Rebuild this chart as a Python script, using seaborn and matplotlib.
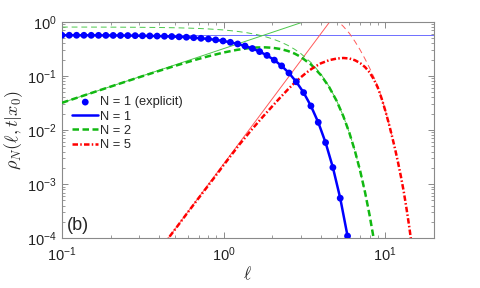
import matplotlib
matplotlib.use("Agg")
import matplotlib.pyplot as plt
import seaborn as sns

# ------- Data -------

# N = 1 (explicit points + curve)
ell_n1 = [0.1, 0.111, 0.1232, 0.1368, 0.1518, 0.1685, 0.187, 0.2075, 0.2303, 0.2556,
          0.2838, 0.3149, 0.3496, 0.388, 0.4306, 0.478, 0.5305, 0.5888, 0.6535, 0.7254,
          0.8054, 0.8939, 0.9922, 1.1013, 1.2224, 1.3568, 1.506, 1.6716, 1.8554, 2.0594,
          2.2856, 2.537, 2.816, 3.1256, 3.4691, 3.8506, 4.274, 4.744, 5.2656, 5.8447]
rho_n1 = [0.5628, 0.5626, 0.562, 0.5616, 0.561, 0.560, 0.559, 0.558, 0.557, 0.555,
          0.553, 0.550, 0.547, 0.543, 0.539, 0.533, 0.526, 0.517, 0.507, 0.494,
          0.4797, 0.462, 0.441, 0.4166, 0.3884, 0.356, 0.320, 0.2805, 0.2386, 0.1954,
          0.1528, 0.1129, 0.0777, 0.0491, 0.02783, 0.01385, 0.00586, 0.00203, 0.000551, 0.00011]

# N = 2
ell_n2 = [0.1, 0.125, 0.15, 0.2, 0.25, 0.3, 0.4, 0.5, 0.6, 0.7, 0.8, 1.0, 1.2, 1.4, 1.6,
          1.8, 2.0, 2.25, 2.5, 2.75, 3.0, 3.5, 4.0, 4.5, 5.0, 5.5, 6.0, 6.5, 7.0, 7.5,
          8.0, 8.5, 9.0]
rho_n2 = [0.03178, 0.03969, 0.04757, 0.06324, 0.07876, 0.09408, 0.12398, 0.15268, 0.17989,
          0.20539, 0.22896, 0.26963, 0.3009, 0.32229, 0.3339, 0.33628, 0.33039, 0.31332,
          0.28811, 0.25782, 0.22443, 0.15873, 0.10307, 0.06194, 0.03462, 0.018077, 0.00884,
          0.004054, 0.001744, 0.000705, 0.0002677, 0.0000954, 0.000032]
rho_n2_large = [0.7969, 0.7963, 0.7957, 0.7939, 0.7917, 0.7889, 0.7820, 0.7733, 0.7628,
                0.7505, 0.7366, 0.7041, 0.6665, 0.6245, 0.5794, 0.5322, 0.4839, 0.4237,
                0.3653, 0.3100, 0.2590, 0.1726, 0.1080, 0.0635, 0.03506, 0.01819, 0.00886,
                0.004058, 0.001745, 0.000705, 0.0002677, 0.0000954, 0.000032]

# N = 5
ell_n5 = [0.42, 0.5, 0.6, 0.7, 0.8, 0.9, 1.0, 1.25, 1.5, 1.75, 2.0, 2.25, 2.5, 2.75, 3.0,
          3.25, 3.5, 3.75, 4.0, 4.5, 5.0, 5.5, 6.0, 6.5, 7.0, 7.5, 8.0, 8.5, 9.0, 9.5,
          10.0, 10.5, 11.0, 11.5, 12.0, 12.5, 13.0, 13.5, 14.0, 14.5, 15.0]
rho_n5 = [7.3e-5, 1.45e-4, 3.0e-4, 5.5e-4, 9.27e-4, 1.47e-3, 2.24e-3, 5.35e-3, 0.01035,
          0.01758, 0.0274, 0.0403, 0.0562, 0.0745, 0.0938, 0.1143, 0.1343, 0.1531, 0.1706,
          0.1950, 0.2084, 0.2138, 0.2094, 0.1941, 0.1718, 0.1452, 0.1161, 0.0861, 0.0603,
          0.0380, 0.0229, 0.0135, 0.00776, 0.00447, 0.00251, 0.00138, 7.41e-4, 3.72e-4,
          1.82e-4, 8.5e-5, 4.0e-5]
ell_n5_large = [4.9, 5.0, 5.5, 6.0, 6.5, 7.0, 7.5, 8.0, 8.5, 9.0, 9.5, 10.0, 10.5, 11.0]
rho_n5_large = [1.2, 1.08, 0.82, 0.61, 0.43, 0.30, 0.205, 0.14, 0.095, 0.064, 0.0392,
                0.0235, 0.0138, 0.0079]

# small-l asymptotes (straight lines on log-log)
ell_n1_small = [0.1, 20]
rho_n1_small = [0.5642, 0.5642]
ell_n2_small = [0.1, 4.0]
rho_n2_small = [0.03183, 1.273]
ell_n5_small = [0.4, 5.0]
rho_n5_small = [6.03e-5, 1.471]

# ------- Plot -------

sns.set_theme(style="white")
plt.rcParams['font.family'] = ['Liberation Sans', 'DejaVu Sans']
plt.rcParams['mathtext.fontset'] = 'cm'

fig = plt.figure(figsize=(4.8, 2.88), dpi=100)
ax = fig.add_axes([0.129, 0.1726, 0.775, 0.752])
ax.set_xscale('log')
ax.set_yscale('log')

blue = '#0000ff'
green = '#11b811'
red = '#ff0000'

# thin asymptotes
sns.lineplot(x=ell_n1_small, y=rho_n1_small, ax=ax, color='#6e6eff', lw=0.7)
sns.lineplot(x=ell_n2_small, y=rho_n2_small, ax=ax, color='#4cc84c', lw=0.7)
sns.lineplot(x=ell_n5_small, y=rho_n5_small, ax=ax, color='#ff5a5a', lw=0.7)
sns.lineplot(x=ell_n2, y=rho_n2_large, ax=ax, color='#4cc84c', lw=0.7,
             linestyle=(0, (6, 4)))
sns.lineplot(x=ell_n5_large, y=rho_n5_large, ax=ax, color='#ff5a5a', lw=0.7,
             linestyle=(0, (6, 4)))

# main curves
sns.scatterplot(x=ell_n1, y=rho_n1, ax=ax, color=blue, s=24, edgecolor='none',
                label='N = 1 (explicit)', zorder=5)
sns.lineplot(x=ell_n1, y=rho_n1, ax=ax, color=blue, lw=1.8, label='N = 1', zorder=4)
sns.lineplot(x=ell_n2, y=rho_n2, ax=ax, color=green, lw=1.8,
             linestyle=(0, (2.6, 1.4)), label='N = 2', zorder=3)
sns.lineplot(x=ell_n5, y=rho_n5, ax=ax, color=red, lw=1.8,
             linestyle=(0, (2.2, 0.9, 0.6, 0.9)), label='N = 5', zorder=3)

ax.set_xlim(0.1, 20)
ax.set_ylim(1e-4, 1)

# axes styling (matlab-like box with inward ticks)
for sp in ax.spines.values():
    sp.set_color('#8a8a8a')
    sp.set_linewidth(0.8)
ax.tick_params(which='both', direction='in', bottom=True, left=True, top=True, right=True,
               color='#8a8a8a', labelsize=10.5, labelcolor='#222222')
ax.tick_params(which='major', length=4, width=0.7)
ax.tick_params(which='minor', length=2.2, width=0.6)
ax.tick_params(axis='x', pad=5)
ax.tick_params(axis='y', pad=4)

ax.set_xlabel(r'$\ell$', fontsize=12.5, labelpad=1)
ax.set_ylabel(r'$\rho_N(\ell, t|x_0)$', fontsize=13, labelpad=1)

ax.text(0.012, 0.02, '(b)', transform=ax.transAxes, fontsize=13, ha='left', va='bottom')

handles, labels = ax.get_legend_handles_labels()
order = ['N = 1 (explicit)', 'N = 1', 'N = 2', 'N = 5']
hmap = dict(zip(labels, handles))
ax.legend([hmap[k] for k in order], order, loc='upper left', bbox_to_anchor=(0.028, 0.655),
          frameon=False, fontsize=9.3, handlelength=2.0, handletextpad=0.13,
          labelspacing=0.17, borderpad=0, borderaxespad=0, scatterpoints=1)

fig.savefig('out.png', dpi=100)
